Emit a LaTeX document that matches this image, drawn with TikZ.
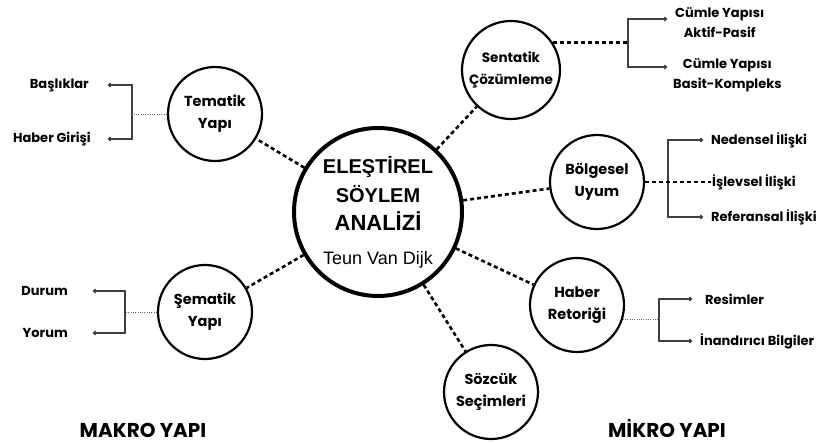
\documentclass[tikz,border=0pt]{standalone}
\usepackage{fontspec}
\setmainfont{Poppins}
\newfontfamily\arialfont{Liberation Sans}
\usetikzlibrary{arrows.meta,positioning}
\tikzset{
    main-circle/.style = {draw, circle, line width=4pt, minimum size=168pt, inner sep=0pt, align=center, font=\arialfont\bfseries\fontsize{20}{29}\selectfont},
    sub-circle/.style = {draw, circle, line width=2.2pt, minimum size=94pt, inner sep=0pt, align=center, font=\bfseries\fontsize{14.5}{22}\selectfont},
    link-line/.style = {line width=2.6pt, dash pattern=on 4pt off 3pt},
    fine-line/.style = {black!60, line width=0.9pt, dash pattern=on 1pt off 1.3pt},
    bracket-line/.style = {draw=black!75, line width=1.3pt, {Circle[length=4pt]}-{Circle[length=4pt]}},
    leaf-label/.style = {align=center, font=\bfseries\fontsize{13}{20}\selectfont, inner sep=1pt},
    side-title/.style = {anchor=base, font=\bfseries\fontsize{20}{24}\selectfont},
}

\begin{document}
\begin{tikzpicture}[x=1pt, y=-1pt]
\useasboundingbox (0,0) rectangle (819,443);
\node[main-circle] (esa) at (378,212) {ELEŞTİREL\\SÖYLEM\\[-1pt]{\fontsize{22}{29}\selectfont ANALİZİ}\\[5pt]{\mdseries\fontsize{18}{22}\selectfont Teun Van Dijk}};
\node[sub-circle] (tematik) at (215,114) {Tematik\\Yapı};
\node[sub-circle] (sematik) at (205,312) {Şematik\\Yapı};
\node[sub-circle, minimum size=98pt, font=\bfseries\fontsize{13.5}{22}\selectfont] (sentatik) at (511,70) {Sentatik\\Çözümleme};
\node[sub-circle] (bolgesel) at (597,182) {Bölgesel\\Uyum};
\node[sub-circle] (retorik) at (577,305) {Haber\\Retoriği};
\node[sub-circle] (sozcuk) at (491,392) {Sözcük\\Seçimleri};
\foreach \sat in {tematik,sematik,sentatik,bolgesel,retorik,sozcuk}
    \draw[link-line] (esa) -- (\sat);

\coordinate (tbrk) at (132,114);
\coordinate (baslik-dot) at (108,85);
\coordinate (giris-dot) at (108,139);
\draw[bracket-line] (baslik-dot) -| (tbrk) |- (giris-dot);
\draw[fine-line] (tematik.west) -- (tbrk);
\node[leaf-label, left=18pt of baslik-dot] (baslik) {Başlıklar};
\node[leaf-label, left=16pt of giris-dot] (giris) {Haber Girişi};

\coordinate (sbrk) at (125,312);
\coordinate (durum-dot) at (93,291);
\coordinate (yorum-dot) at (93,333);
\draw[bracket-line] (durum-dot) -| (sbrk) |- (yorum-dot);
\draw[fine-line] (sematik.west) -- (sbrk);
\node[leaf-label, left=24pt of durum-dot] (durum) {Durum};
\node[leaf-label, left=24pt of yorum-dot] (yorum) {Yorum};

\coordinate (cbrk) at (628,43);
\coordinate (aktif-dot) at (667,19);
\coordinate (basit-dot) at (667,67);
\draw[bracket-line] (aktif-dot) -| (cbrk) |- (basit-dot);
\draw[link-line] (sentatik.33) -- (sentatik.33 -| cbrk);
\node[leaf-label, right=7pt of aktif-dot, yshift=-4pt] (aktif) {Cümle Yapısı\\Aktif-Pasif};
\node[leaf-label, right=5pt of basit-dot, yshift=-8pt] (basit) {Cümle Yapısı\\Basit-Kompleks};

\coordinate (bbrk) at (668,182);
\coordinate (neden-dot) at (703,140);
\coordinate (refer-dot) at (703,217);
\draw[bracket-line] (neden-dot) -| (bbrk) |- (refer-dot);
\node[leaf-label, anchor=west] (islevsel) at (711,182) {İşlevsel İlişki};
\draw[link-line] (bolgesel.east) -- (islevsel.west);
\node[leaf-label, right=7pt of neden-dot] (neden) {Nedensel İlişki};
\node[leaf-label, right=7pt of refer-dot] (refer) {Referansal İlişki};

\coordinate (rbrk) at (659,320);
\coordinate (resim-dot) at (692,299);
\coordinate (inandir-dot) at (692,341);
\draw[bracket-line] (resim-dot) -| (rbrk) |- (inandir-dot);
\draw[fine-line] (retorik.-18) -- (retorik.-18 -| rbrk);
\node[leaf-label, right=12pt of resim-dot] (resim) {Resimler};
\node[leaf-label, right=7pt of inandir-dot] (inandir) {İnandırıcı Bilgiler};

\node[side-title] (makro) at (143,437) {MAKRO YAPI};
\node[side-title] (mikro) at (667,437) {MİKRO YAPI};
\end{tikzpicture}
\end{document}
